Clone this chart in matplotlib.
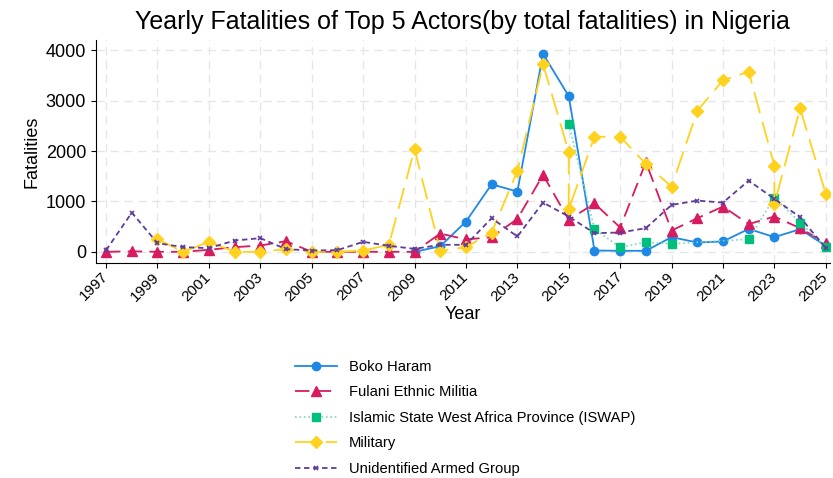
import matplotlib
matplotlib.use('Agg')
import matplotlib.pyplot as plt

plt.rcParams['font.family'] = ['Liberation Sans', 'DejaVu Sans']

# years for each series (Military has two points for 2015 and 2023, ISWAP starts in 2015 and skips 2020-21)
years = list(range(1997, 2026))
boko_years = list(range(2009, 2026))
boko = [0, 110, 600, 1340, 1195, 3927, 3089, 26, 20, 20, 291, 185, 205, 455, 291, 449, 119]

fulani = [0, 10, 0, 0, 40, 92, 125, 211, 0, 0, 0, 0, 0, 363, 245, 291, 653, 1525, 634,
          960, 482, 1780, 422, 667, 898, 550, 700, 469, 172]

iswap_years = [2015, 2016, 2017, 2018, 2019, 2022, 2023, 2024, 2025]
iswap = [2535, 450, 92, 191, 158, 251, 1076, 581, 92]

military_years = [1999, 2000, 2001, 2002, 2003, 2004, 2005, 2006, 2007, 2008, 2009, 2010,
                  2011, 2012, 2013, 2014, 2015, 2015, 2016, 2017, 2018, 2019, 2020, 2021,
                  2022, 2023, 2023, 2024, 2025]
military = [251, 0, 198, 0, 0, 53, 0, 0, 26, 139, 2040, 20,
            93, 383, 1604, 3723, 1974, 845, 2284, 2284, 1743, 1294, 2799, 3406,
            3571, 1709, 950, 2845, 1149]

unident = [30, 778, 172, 93, 73, 224, 271, 53, 26, 33, 198, 119, 59, 139,
           139, 667, 304, 977, 700, 370, 383, 469, 931, 1016, 977, 1412, 1050, 687, 73]

fig = plt.figure(figsize=(8.33, 4.78), dpi=100)
ax = fig.add_axes([0.115, 0.45, 0.881, 0.466])

ax.plot(boko_years, boko, color='#1E88E5', lw=1.3, marker='o', ms=6, label='Boko Haram')
ax.plot(years, fulani, color='#D81B60', lw=1.3, ls=(0, (8, 4)), marker='^', ms=7,
        label='Fulani Ethnic Militia')
ax.plot(iswap_years, iswap, color='#7FD3C0', lw=1.2, ls=':', marker='s', ms=6,
        mfc='#00BF7D', mec='#00BF7D', label='Islamic State West Africa Province (ISWAP)')
ax.plot(military_years, military, color='#FFD21F', lw=1.3, ls=(0, (12, 5)), marker='D', ms=6.5,
        label='Military')
ax.plot(years, unident, color='#5E3C99', lw=1.3, ls=(0, (3, 2)), marker='x', ms=3,
        mew=1.2, label='Unidentified Armed Group')

ax.set_xlim(1996.6, 2025.15)
ax.set_ylim(-220, 4200)
ax.set_xticks(range(1997, 2026, 2))
ax.set_yticks(range(0, 4001, 1000))
ax.tick_params(axis='x', labelrotation=45, labelsize=11, pad=5)
ax.tick_params(axis='y', labelsize=13)
for lab in ax.get_xticklabels():
    lab.set_ha('right')
    lab.set_va('center')
    lab.set_rotation_mode('anchor')
ax.grid(True, color='#e6e6e6', ls=(0, (6, 4)), lw=1)
ax.set_axisbelow(True)
for s in ['top', 'right']:
    ax.spines[s].set_visible(False)

ax.set_xlabel('Year', fontsize=13, labelpad=2)
ax.set_ylabel('Fatalities', fontsize=13)
ax.set_title('Yearly Fatalities of Top 5 Actors(by total fatalities) in Nigeria', fontsize=18, pad=8)

fig.legend(loc='upper left', bbox_to_anchor=(295 / 833, 1 - 360 / 478), frameon=False,
           fontsize=10.6, labelspacing=0.78, handlelength=2.85, handletextpad=0.8,
           borderpad=0, borderaxespad=0)

fig.savefig('out.png', dpi=100)
